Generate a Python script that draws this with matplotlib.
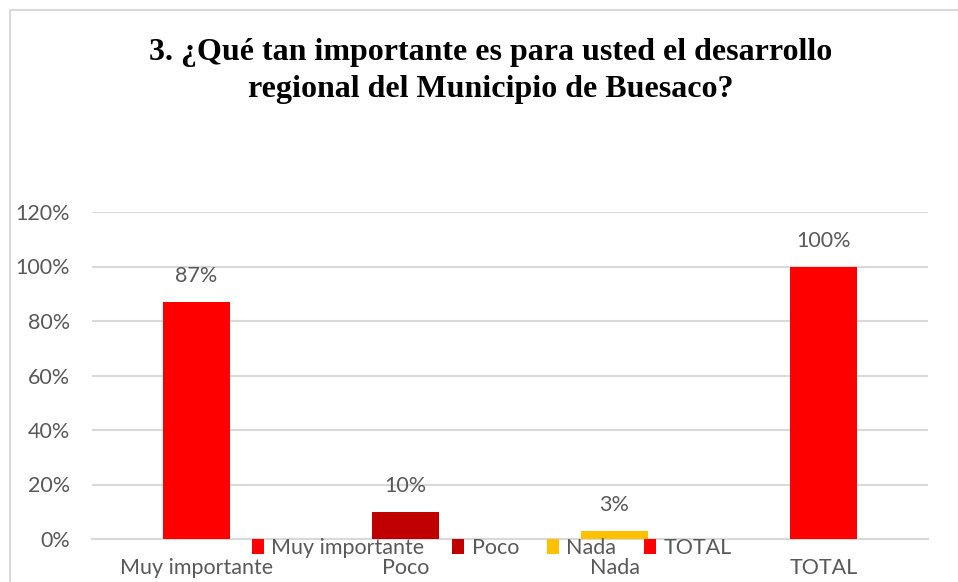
import matplotlib
matplotlib.use("Agg")
import matplotlib.pyplot as plt
from matplotlib.patches import Rectangle, Patch
from matplotlib.ticker import PercentFormatter

categories = ["Muy importante", "Poco", "Nada", "TOTAL"]
values = [0.87, 0.10, 0.03, 1.00]
value_labels = ["87%", "10%", "3%", "100%"]
colors = ["#FF0000", "#C00000", "#FFC000", "#FF0000"]
yticks = [0, 0.2, 0.4, 0.6, 0.8, 1.0, 1.2]
title = "3. ¿Qué tan importante es para usted el desarrollo\nregional del Municipio de Buesaco?"

W, H = 958, 582
fig = plt.figure(figsize=(W / 100, H / 100), dpi=100)
fig.patches.append(Rectangle((10 / W, -0.05), 1.1, 1 - 10 / H + 0.05, transform=fig.transFigure,
                             fill=False, edgecolor="#D9D9D9", linewidth=1.5))

ax = fig.add_axes([92 / W, 1 - 539 / H, (928 - 92) / W, (539 - 212) / H])
txt = "#595959"
font = ["Lato", "DejaVu Sans"]
fs = 15.5

x = range(len(categories))
bars = ax.bar(x, values, width=0.32, color=colors, zorder=3)
for xi, v, lab in zip(x, values, value_labels):
    ax.annotate(lab, (xi, v), xytext=(0, 18.5), textcoords="offset points",
                ha="center", va="center", fontsize=fs, color=txt, family=font)

ax.set_xlim(-0.5, len(categories) - 0.5)
ax.set_ylim(0, 1.2)
ax.set_yticks(yticks)
ax.yaxis.set_major_formatter(PercentFormatter(1.0, decimals=0))
ax.grid(axis="y", color="#D9D9D9", linewidth=1.5, zorder=0)
for s in ["top", "right", "left"]:
    ax.spines[s].set_visible(False)
ax.spines["bottom"].set_color("#D9D9D9")
ax.spines["bottom"].set_linewidth(1.5)
ax.tick_params(axis="y", length=0, pad=16, labelsize=fs, labelcolor=txt)
ax.tick_params(axis="x", length=0, pad=14, labelsize=fs, labelcolor=txt)
ax.set_xticks(list(x))
ax.set_xticklabels(categories)
for t in ax.get_xticklabels() + ax.get_yticklabels():
    t.set_family(font)

handles = [Patch(facecolor=c) for c in colors]
leg = fig.legend(handles, categories, loc="center", bbox_to_anchor=(492 / W, 1 - 548 / H),
                 ncol=4, frameon=False, handlelength=0.55, handleheight=0.7,
                 handletextpad=0.35, columnspacing=1.3, borderpad=0,
                 prop={"family": font, "size": fs})
for t in leg.get_texts():
    t.set_color(txt)

fig.text(491 / W, 1 - 71 / H, title, ha="center", va="center", fontsize=23, fontweight="bold",
         family=["Liberation Serif", "DejaVu Serif"], linespacing=1.38, color="black")

fig.savefig("out.png", dpi=100)
